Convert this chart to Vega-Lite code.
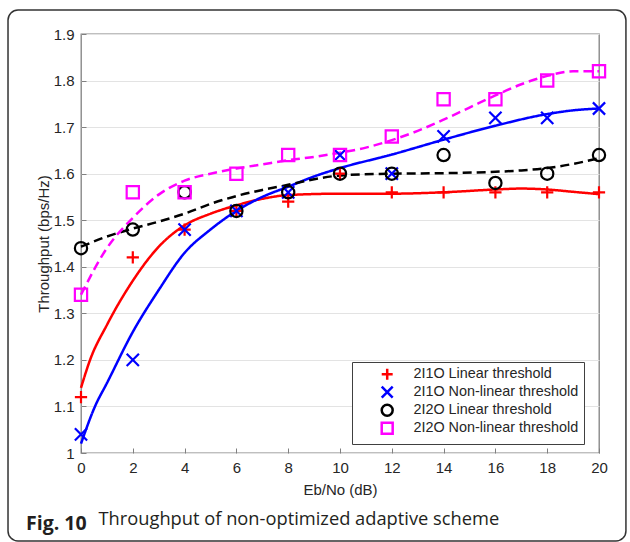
{
  "$schema": "https://vega.github.io/schema/vega-lite/v6.json",
  "width": 518,
  "height": 419,
  "autosize": {"type": "none"},
  "padding": {"left": 81, "top": 34, "right": 31, "bottom": 89},
  "background": "white",
  "title": {
    "text": "Fig. 10",
    "orient": "bottom",
    "anchor": "start",
    "frame": "group",
    "dx": -55,
    "offset": 0,
    "dy": -12,
    "baseline": "alphabetic",
    "font": "Open Sans",
    "fontSize": 19.5,
    "fontWeight": "bold",
    "color": "#231f20"
  },
  "config": {
    "view": {"stroke": "#808080", "strokeWidth": 1.3},
    "axis": {
      "domain": false,
      "grid": true,
      "gridColor": "#e3e3e3",
      "gridWidth": 1,
      "ticks": true,
      "tickColor": "#808080",
      "tickSize": -5,
      "labelFlush": false,
      "labelFont": "Liberation Sans",
      "labelFontSize": 15,
      "labelColor": "#262626",
      "titleFont": "Liberation Sans",
      "titleFontSize": 15,
      "titleFontWeight": "normal",
      "titleColor": "#262626"
    }
  },
  "datasets": {
    "points": [
      {"ebno": 0, "throughput": 1.12, "series": "2I1O Linear threshold"},
      {"ebno": 2, "throughput": 1.42, "series": "2I1O Linear threshold"},
      {"ebno": 4, "throughput": 1.48, "series": "2I1O Linear threshold"},
      {"ebno": 6, "throughput": 1.52, "series": "2I1O Linear threshold"},
      {"ebno": 8, "throughput": 1.54, "series": "2I1O Linear threshold"},
      {"ebno": 10, "throughput": 1.60, "series": "2I1O Linear threshold"},
      {"ebno": 12, "throughput": 1.56, "series": "2I1O Linear threshold"},
      {"ebno": 14, "throughput": 1.56, "series": "2I1O Linear threshold"},
      {"ebno": 16, "throughput": 1.56, "series": "2I1O Linear threshold"},
      {"ebno": 18, "throughput": 1.56, "series": "2I1O Linear threshold"},
      {"ebno": 20, "throughput": 1.56, "series": "2I1O Linear threshold"},
      {"ebno": 0, "throughput": 1.04, "series": "2I1O Non-linear threshold"},
      {"ebno": 2, "throughput": 1.20, "series": "2I1O Non-linear threshold"},
      {"ebno": 4, "throughput": 1.48, "series": "2I1O Non-linear threshold"},
      {"ebno": 6, "throughput": 1.52, "series": "2I1O Non-linear threshold"},
      {"ebno": 8, "throughput": 1.56, "series": "2I1O Non-linear threshold"},
      {"ebno": 10, "throughput": 1.64, "series": "2I1O Non-linear threshold"},
      {"ebno": 12, "throughput": 1.60, "series": "2I1O Non-linear threshold"},
      {"ebno": 14, "throughput": 1.68, "series": "2I1O Non-linear threshold"},
      {"ebno": 16, "throughput": 1.72, "series": "2I1O Non-linear threshold"},
      {"ebno": 18, "throughput": 1.72, "series": "2I1O Non-linear threshold"},
      {"ebno": 20, "throughput": 1.74, "series": "2I1O Non-linear threshold"},
      {"ebno": 0, "throughput": 1.44, "series": "2I2O Linear threshold"},
      {"ebno": 2, "throughput": 1.48, "series": "2I2O Linear threshold"},
      {"ebno": 4, "throughput": 1.56, "series": "2I2O Linear threshold"},
      {"ebno": 6, "throughput": 1.52, "series": "2I2O Linear threshold"},
      {"ebno": 8, "throughput": 1.56, "series": "2I2O Linear threshold"},
      {"ebno": 10, "throughput": 1.60, "series": "2I2O Linear threshold"},
      {"ebno": 12, "throughput": 1.60, "series": "2I2O Linear threshold"},
      {"ebno": 14, "throughput": 1.64, "series": "2I2O Linear threshold"},
      {"ebno": 16, "throughput": 1.58, "series": "2I2O Linear threshold"},
      {"ebno": 18, "throughput": 1.60, "series": "2I2O Linear threshold"},
      {"ebno": 20, "throughput": 1.64, "series": "2I2O Linear threshold"},
      {"ebno": 0, "throughput": 1.34, "series": "2I2O Non-linear threshold"},
      {"ebno": 2, "throughput": 1.56, "series": "2I2O Non-linear threshold"},
      {"ebno": 4, "throughput": 1.56, "series": "2I2O Non-linear threshold"},
      {"ebno": 6, "throughput": 1.60, "series": "2I2O Non-linear threshold"},
      {"ebno": 8, "throughput": 1.64, "series": "2I2O Non-linear threshold"},
      {"ebno": 10, "throughput": 1.64, "series": "2I2O Non-linear threshold"},
      {"ebno": 12, "throughput": 1.68, "series": "2I2O Non-linear threshold"},
      {"ebno": 14, "throughput": 1.76, "series": "2I2O Non-linear threshold"},
      {"ebno": 16, "throughput": 1.76, "series": "2I2O Non-linear threshold"},
      {"ebno": 18, "throughput": 1.80, "series": "2I2O Non-linear threshold"},
      {"ebno": 20, "throughput": 1.82, "series": "2I2O Non-linear threshold"}
    ],
    "curves": [
      {"ebno": 0, "fit": 1.14, "series": "2I1O Linear threshold"},
      {"ebno": 0.35, "fit": 1.20, "series": "2I1O Linear threshold"},
      {"ebno": 1, "fit": 1.275, "series": "2I1O Linear threshold"},
      {"ebno": 2, "fit": 1.37, "series": "2I1O Linear threshold"},
      {"ebno": 3, "fit": 1.443, "series": "2I1O Linear threshold"},
      {"ebno": 4, "fit": 1.489, "series": "2I1O Linear threshold"},
      {"ebno": 5, "fit": 1.514, "series": "2I1O Linear threshold"},
      {"ebno": 6, "fit": 1.532, "series": "2I1O Linear threshold"},
      {"ebno": 7, "fit": 1.546, "series": "2I1O Linear threshold"},
      {"ebno": 8, "fit": 1.554, "series": "2I1O Linear threshold"},
      {"ebno": 10, "fit": 1.557, "series": "2I1O Linear threshold"},
      {"ebno": 12, "fit": 1.557, "series": "2I1O Linear threshold"},
      {"ebno": 14, "fit": 1.56, "series": "2I1O Linear threshold"},
      {"ebno": 16, "fit": 1.566, "series": "2I1O Linear threshold"},
      {"ebno": 17, "fit": 1.568, "series": "2I1O Linear threshold"},
      {"ebno": 18, "fit": 1.566, "series": "2I1O Linear threshold"},
      {"ebno": 19, "fit": 1.561, "series": "2I1O Linear threshold"},
      {"ebno": 20, "fit": 1.556, "series": "2I1O Linear threshold"},
      {"ebno": 0, "fit": 1.02, "series": "2I1O Non-linear threshold"},
      {"ebno": 0.54, "fit": 1.10, "series": "2I1O Non-linear threshold"},
      {"ebno": 1, "fit": 1.15, "series": "2I1O Non-linear threshold"},
      {"ebno": 2, "fit": 1.26, "series": "2I1O Non-linear threshold"},
      {"ebno": 3, "fit": 1.35, "series": "2I1O Non-linear threshold"},
      {"ebno": 4, "fit": 1.43, "series": "2I1O Non-linear threshold"},
      {"ebno": 5, "fit": 1.48, "series": "2I1O Non-linear threshold"},
      {"ebno": 6, "fit": 1.52, "series": "2I1O Non-linear threshold"},
      {"ebno": 7, "fit": 1.55, "series": "2I1O Non-linear threshold"},
      {"ebno": 8, "fit": 1.572, "series": "2I1O Non-linear threshold"},
      {"ebno": 9, "fit": 1.594, "series": "2I1O Non-linear threshold"},
      {"ebno": 10, "fit": 1.612, "series": "2I1O Non-linear threshold"},
      {"ebno": 12, "fit": 1.641, "series": "2I1O Non-linear threshold"},
      {"ebno": 14, "fit": 1.673, "series": "2I1O Non-linear threshold"},
      {"ebno": 16, "fit": 1.703, "series": "2I1O Non-linear threshold"},
      {"ebno": 18, "fit": 1.728, "series": "2I1O Non-linear threshold"},
      {"ebno": 19, "fit": 1.736, "series": "2I1O Non-linear threshold"},
      {"ebno": 20, "fit": 1.74, "series": "2I1O Non-linear threshold"},
      {"ebno": 0, "fit": 1.443, "series": "2I2O Linear threshold"},
      {"ebno": 1, "fit": 1.465, "series": "2I2O Linear threshold"},
      {"ebno": 2, "fit": 1.482, "series": "2I2O Linear threshold"},
      {"ebno": 3, "fit": 1.497, "series": "2I2O Linear threshold"},
      {"ebno": 4, "fit": 1.514, "series": "2I2O Linear threshold"},
      {"ebno": 5, "fit": 1.535, "series": "2I2O Linear threshold"},
      {"ebno": 6, "fit": 1.552, "series": "2I2O Linear threshold"},
      {"ebno": 7, "fit": 1.565, "series": "2I2O Linear threshold"},
      {"ebno": 8, "fit": 1.576, "series": "2I2O Linear threshold"},
      {"ebno": 9, "fit": 1.588, "series": "2I2O Linear threshold"},
      {"ebno": 10, "fit": 1.596, "series": "2I2O Linear threshold"},
      {"ebno": 12, "fit": 1.600, "series": "2I2O Linear threshold"},
      {"ebno": 14, "fit": 1.601, "series": "2I2O Linear threshold"},
      {"ebno": 16, "fit": 1.604, "series": "2I2O Linear threshold"},
      {"ebno": 17, "fit": 1.607, "series": "2I2O Linear threshold"},
      {"ebno": 18, "fit": 1.612, "series": "2I2O Linear threshold"},
      {"ebno": 19, "fit": 1.621, "series": "2I2O Linear threshold"},
      {"ebno": 20, "fit": 1.633, "series": "2I2O Linear threshold"},
      {"ebno": 0, "fit": 1.34, "series": "2I2O Non-linear threshold"},
      {"ebno": 1, "fit": 1.44, "series": "2I2O Non-linear threshold"},
      {"ebno": 2, "fit": 1.505, "series": "2I2O Non-linear threshold"},
      {"ebno": 3, "fit": 1.555, "series": "2I2O Non-linear threshold"},
      {"ebno": 4, "fit": 1.585, "series": "2I2O Non-linear threshold"},
      {"ebno": 5, "fit": 1.60, "series": "2I2O Non-linear threshold"},
      {"ebno": 6, "fit": 1.611, "series": "2I2O Non-linear threshold"},
      {"ebno": 7, "fit": 1.62, "series": "2I2O Non-linear threshold"},
      {"ebno": 8, "fit": 1.629, "series": "2I2O Non-linear threshold"},
      {"ebno": 9, "fit": 1.636, "series": "2I2O Non-linear threshold"},
      {"ebno": 10, "fit": 1.645, "series": "2I2O Non-linear threshold"},
      {"ebno": 11, "fit": 1.656, "series": "2I2O Non-linear threshold"},
      {"ebno": 12, "fit": 1.672, "series": "2I2O Non-linear threshold"},
      {"ebno": 13, "fit": 1.692, "series": "2I2O Non-linear threshold"},
      {"ebno": 14, "fit": 1.716, "series": "2I2O Non-linear threshold"},
      {"ebno": 15, "fit": 1.742, "series": "2I2O Non-linear threshold"},
      {"ebno": 16, "fit": 1.768, "series": "2I2O Non-linear threshold"},
      {"ebno": 17, "fit": 1.792, "series": "2I2O Non-linear threshold"},
      {"ebno": 18, "fit": 1.810, "series": "2I2O Non-linear threshold"},
      {"ebno": 19, "fit": 1.820, "series": "2I2O Non-linear threshold"},
      {"ebno": 20, "fit": 1.820, "series": "2I2O Non-linear threshold"}
    ],
    "frame": [{"frame": "outer"}]
  },
  "resolve": {"axis": {"x": "independent"}},
  "layer": [
    {
      "data": {"name": "curves"},
      "mark": {"type": "line", "strokeWidth": 2.5, "interpolate": "monotone"},
      "encoding": {
        "x": {"field": "ebno", "type": "quantitative", "axis": null, "scale": {"domain": [0, 20], "nice": false, "zero": false}},
        "y": {"field": "fit", "type": "quantitative", "title": "Throughput (bps/Hz)", "scale": {"domain": [1, 1.9], "nice": false, "zero": false}},
        "detail": {"field": "series", "type": "nominal"},
        "stroke": {
          "field": "series", "type": "nominal", "legend": null,
          "scale": {"range": ["#ff0000", "#0000ff", "#000000", "#ff00ff"]}
        },
        "strokeDash": {
          "field": "series", "type": "nominal", "legend": null,
          "scale": {"range": [[1, 0], [1, 0], [9, 5], [9, 5]]}
        }
      }
    },
    {
      "data": {"name": "points"},
      "mark": {"type": "point", "filled": false, "strokeWidth": 2.2, "size": 150, "opacity": 1},
      "encoding": {
        "x": {"field": "ebno", "type": "quantitative", "title": "Eb/No (dB)", "axis": {"values": [0, 2, 4, 6, 8, 10, 12, 14, 16, 18, 20], "labelPadding": 12, "titlePadding": 7}},
        "y": {"field": "throughput", "type": "quantitative", "title": "Throughput (bps/Hz)", "axis": {"values": [1, 1.1, 1.2, 1.3, 1.4, 1.5, 1.6, 1.7, 1.8, 1.9], "format": "~g", "labelPadding": 12, "titlePadding": 2}},
        "color": {
          "field": "series", "type": "nominal",
          "scale": {"domain": ["2I1O Linear threshold", "2I1O Non-linear threshold", "2I2O Linear threshold", "2I2O Non-linear threshold"], "range": ["#ff0000", "#0000ff", "#000000", "#ff00ff"]},
          "legend": {
            "title": null,
            "orient": "none",
            "legendX": 271,
            "legendY": 328,
            "fillColor": "white",
            "strokeColor": "#404040",
            "padding": 5,
            "rowPadding": -4.5,
            "labelFont": "Liberation Sans",
            "labelFontSize": 14.4,
            "labelColor": "#262626",
            "labelLimit": 400,
            "symbolOffset": 23,
            "labelOffset": 19,
            "symbolSize": 120,
            "symbolStrokeWidth": 2.5
          }
        },
        "shape": {
          "field": "series", "type": "nominal",
          "scale": {"domain": ["2I1O Linear threshold", "2I1O Non-linear threshold", "2I2O Linear threshold", "2I2O Non-linear threshold"], "range": ["M-1,0L1,0M0,-1L0,1", "M-1,-1L1,1M-1,1L1,-1", "circle", "square"]},
          "legend": {
            "title": null,
            "orient": "none",
            "legendX": 271,
            "legendY": 328,
            "fillColor": "white",
            "strokeColor": "#404040",
            "padding": 5,
            "rowPadding": -4.5,
            "labelFont": "Liberation Sans",
            "labelFontSize": 14.4,
            "labelColor": "#262626",
            "labelLimit": 400,
            "symbolOffset": 23,
            "labelOffset": 19,
            "symbolSize": 120,
            "symbolStrokeWidth": 2.5
          }
        }
      }
    },
    {
      "data": {"name": "frame"},
      "mark": {"type": "rect", "fill": "transparent", "stroke": "#333333", "strokeWidth": 1.5, "cornerRadius": 10, "clip": false},
      "encoding": {
        "x": {"datum": -2.818, "type": "quantitative", "axis": {"orient": "bottom", "labels": false, "ticks": false, "grid": false, "domain": false, "title": "Throughput of non-optimized adaptive scheme", "titleFont": "Open Sans", "titleFontSize": 18.3, "titleColor": "#231f20", "titleAlign": "left", "titleAnchor": "start", "titleBaseline": "alphabetic", "titleAngle": 0, "titleX": 17, "titleY": 71}},
        "x2": {"datum": 21.04},
        "y": {"datum": 1.9516, "type": "quantitative", "title": "Throughput (bps/Hz)"},
        "y2": {"datum": 0.811}
      }
    }
  ]
}
